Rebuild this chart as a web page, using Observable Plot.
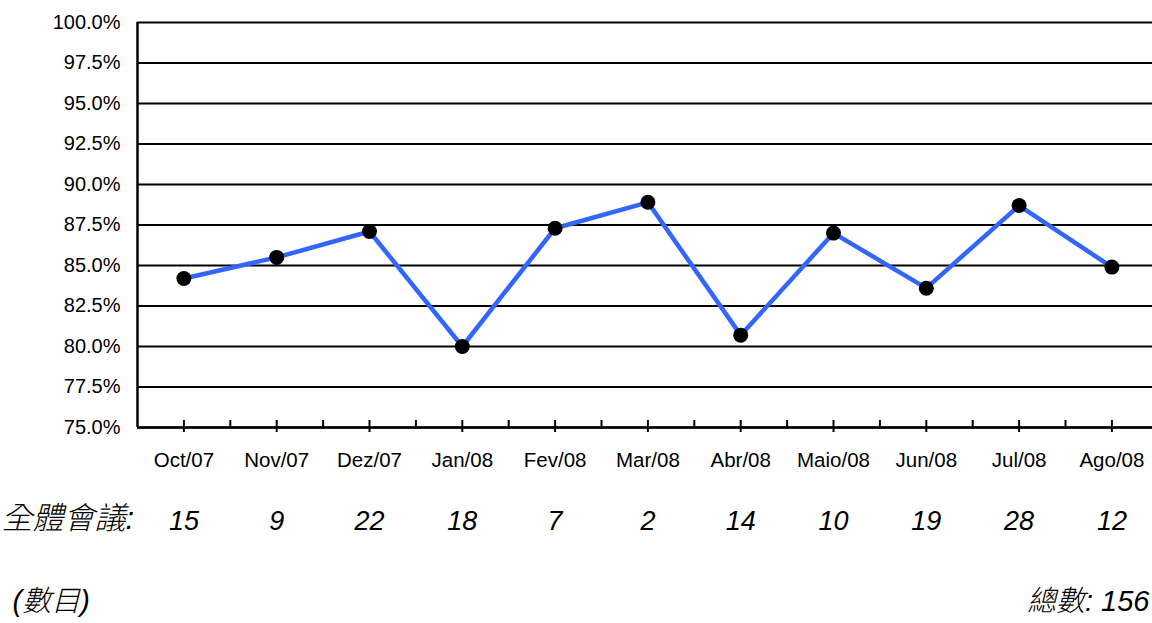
<!DOCTYPE html>
<html>
<head>
<meta charset="utf-8">
<script src="https://cdn.jsdelivr.net/npm/d3@7"></script>
<script src="https://cdn.jsdelivr.net/npm/@observablehq/plot@0.6"></script>
<style>
  html, body { margin: 0; padding: 0; background: #fff; }
</style>
</head>
<body>
<div id="chart"></div>
<script>
const months = ["Oct/07", "Nov/07", "Dez/07", "Jan/08", "Fev/08", "Mar/08", "Abr/08", "Maio/08", "Jun/08", "Jul/08", "Ago/08"];
const rates = [84.2, 85.5, 87.1, 80.0, 87.3, 88.9, 80.7, 87.0, 83.6, 88.7, 84.9];
const meetings = [15, 9, 22, 18, 7, 2, 14, 10, 19, 28, 12];
const yTicks = [75, 77.5, 80, 82.5, 85, 87.5, 90, 92.5, 95, 97.5, 100];
const rowLabel = "全體會議:";
const unitNote = "(數目)";
const totalLabel = "總數";

const rows = months.map((m, i) => ({i, month: m, rate: rates[i], n: meetings[i]}));
const idx = rows.map(d => d.i);
const bounds = idx.slice(0, -1).map(i => i + 0.5);
const total = d3.sum(meetings);

const W = 1152, H = 623, mT = 22, mB = 196, mL = 137;
const frameH = H - mT - mB;
const step = 92.8;
const latin = "'Liberation Sans', Arial, sans-serif";
const cjk = "'Liberation Sans', 'Noto Sans CJK TC', sans-serif";

const chart = Plot.plot({
  width: W,
  height: H,
  marginTop: mT,
  marginBottom: mB,
  marginLeft: mL,
  marginRight: 0,
  style: {fontFamily: latin, fontSize: "20px", color: "#000", background: "#fff", overflow: "hidden"},
  x: {type: "linear", domain: [-0.5, months.length - 0.5], range: [mL, mL + months.length * step], axis: null},
  y: {domain: [75, 100]},
  marks: [
    Plot.ruleY(yTicks, {stroke: "#000", strokeWidth: 2}),
    Plot.ruleX([-0.5], {stroke: "#000", strokeWidth: 2.5}),
    Plot.ruleY([75], {stroke: "#000", strokeWidth: 2.5}),
    Plot.ruleX(idx, {stroke: "#000", strokeWidth: 2, insetTop: frameH - 7, insetBottom: -5}),
    Plot.ruleX(bounds, {stroke: "#000", strokeWidth: 2, insetTop: frameH - 7, insetBottom: 0}),
    Plot.axisY(yTicks, {label: null, tickSize: 0, tickPadding: 17, tickFormat: d => d.toFixed(1) + "%", fontSize: 20}),
    Plot.text(rows, {x: "i", text: "month", frameAnchor: "bottom", dy: 39, fontSize: 20.5}),
    Plot.line(rows, {x: "i", y: "rate", stroke: "#3366ff", strokeWidth: 4.5}),
    Plot.dot(rows, {x: "i", y: "rate", r: 7.5, fill: "#000"}),
    Plot.text(rows, {x: "i", text: d => String(d.n), frameAnchor: "bottom", dy: 102, fontSize: 27, fontStyle: "italic"}),
    Plot.text([rowLabel], {text: d => d, frameAnchor: "bottom-left", textAnchor: "start", dx: -mL + 1, dy: 101, fontSize: 31, fontStyle: "italic", fontWeight: 300, fontFamily: cjk}),
    Plot.text([unitNote], {text: d => d, frameAnchor: "bottom-left", textAnchor: "start", dx: -mL + 12, dy: 183, fontSize: 29, fontStyle: "italic", fontWeight: 300, fontFamily: cjk}),
    Plot.text([`${totalLabel}: ${total}`], {text: d => d, frameAnchor: "bottom-right", textAnchor: "end", dx: -3, dy: 183, fontSize: 29, fontStyle: "italic", fontWeight: 300, fontFamily: cjk})
  ]
});
document.getElementById("chart").appendChild(chart);
</script>
</body>
</html>
